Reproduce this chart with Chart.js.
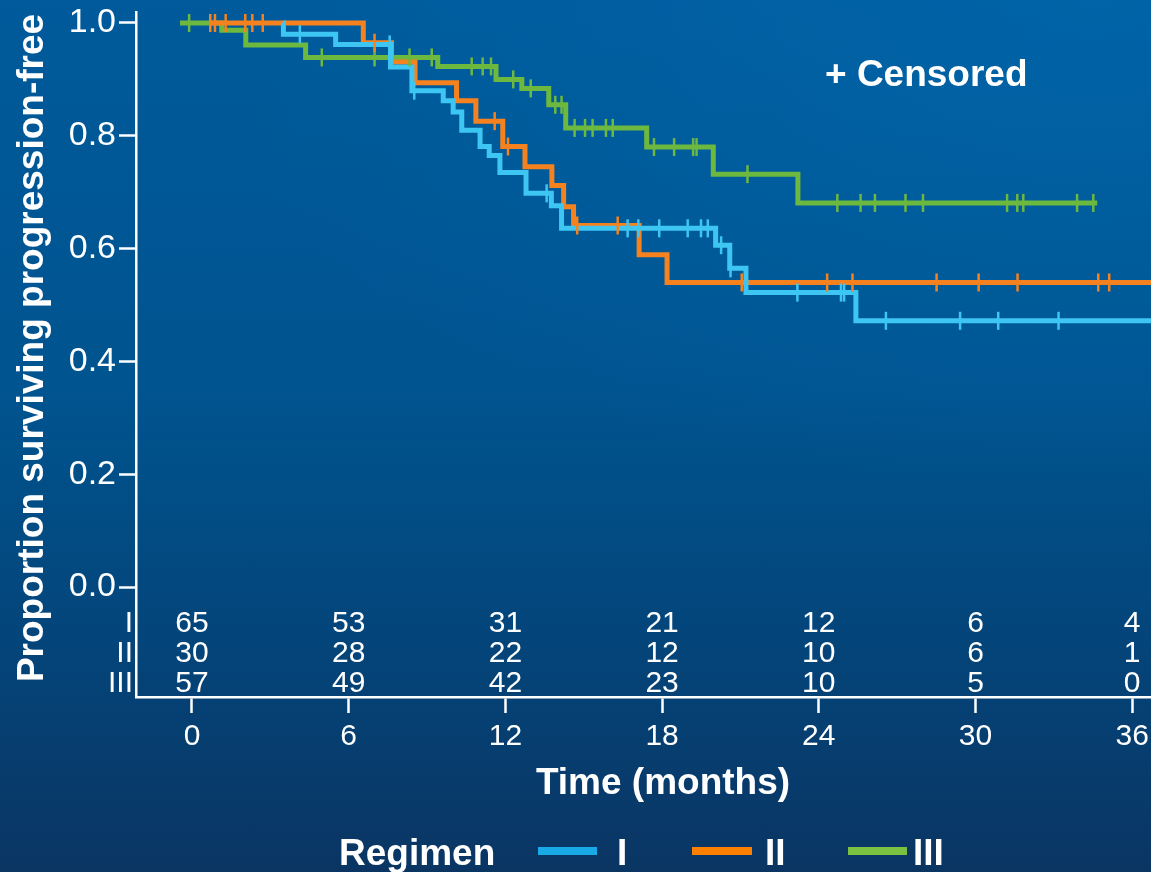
<!DOCTYPE html>
<html>
<head>
<meta charset="utf-8">
<script src="https://cdn.jsdelivr.net/npm/chart.js@4/dist/chart.umd.min.js"></script>
<style>
  html, body { margin: 0; padding: 0; width: 1151px; height: 872px; overflow: hidden; }
  body {
    background:
      radial-gradient(ellipse 900px 500px at 95% 0%, rgba(0,108,178,0.55), rgba(0,108,178,0) 100%),
      linear-gradient(to bottom, #005a9b 0%, #00548f 45%, #044479 75%, #0a3563 100%);
  }
  #wrap { position: relative; width: 1151px; height: 872px; }
</style>
</head>
<body>
<div id="wrap"><canvas id="c" width="1151" height="872"></canvas></div>
<script>
// ---------- data ----------
const regimens = ['I', 'II', 'III'];
const timeTicks = [0, 6, 12, 18, 24, 30, 36];
const yTicks = [0, 0.2, 0.4, 0.6, 0.8, 1.0];

const atRiskI   = [65, 53, 31, 21, 12, 6, 4];
const atRiskII  = [30, 28, 22, 12, 10, 6, 1];
const atRiskIII = [57, 49, 42, 23, 10, 5, 0];

// Kaplan-Meier steps (time in months, proportion after the step)
const timeI = [3.48, 3.50, 5.50, 7.60, 8.42, 9.62, 10.00, 10.33, 11.03, 11.38, 11.79, 12.79, 13.76, 14.15, 20.05, 20.59, 21.21, 25.42, 37.5];
const survI = [1.000, 0.980, 0.962, 0.922, 0.880, 0.862, 0.842, 0.810, 0.781, 0.765, 0.735, 0.698, 0.676, 0.636, 0.606, 0.565, 0.522, 0.472, 0.472];
const censorI = [4.13, 7.57, 8.51, 13.58, 16.68, 17.09, 17.89, 18.98, 19.49, 19.75, 20.26, 20.62, 23.18, 24.85, 24.97, 26.57, 29.41, 30.87, 33.18];

const timeII = [0.65, 6.56, 7.64, 8.54, 10.13, 10.87, 11.90, 12.75, 13.78, 14.23, 14.61, 17.12, 18.19, 37.5];
const survII = [1.000, 0.965, 0.931, 0.894, 0.862, 0.826, 0.781, 0.745, 0.712, 0.674, 0.641, 0.589, 0.540, 0.540];
const censorII = [0.70, 0.88, 1.29, 2.04, 2.31, 2.71, 6.99, 11.59, 12.10, 14.75, 16.30, 21.05, 24.32, 25.29, 28.51, 30.12, 31.61, 34.70, 35.12];

const timeIII = [-0.46, 1.14, 2.06, 4.35, 9.41, 11.64, 12.63, 13.66, 14.31, 17.41, 19.96, 23.20, 34.66];
const survIII = [1.000, 0.987, 0.961, 0.939, 0.923, 0.900, 0.884, 0.855, 0.814, 0.780, 0.732, 0.681, 0.681];
const censorIII = [-0.11, 4.97, 6.99, 8.33, 9.18, 10.71, 11.13, 11.45, 12.30, 12.97, 13.91, 14.15, 14.65, 15.05, 15.34, 15.85, 16.11, 17.69, 18.46, 19.19, 19.32, 21.27, 24.71, 25.60, 26.15, 27.32, 27.99, 31.21, 31.60, 31.83, 33.89, 34.51];

// ---------- styles ----------
const COL = { I: '#3ec6f3', II: '#f5821f', III: '#6db83e' };
const LEG = { I: '#19a9e6', II: '#ff8000', III: '#7cc242' };
const FONT = "'Liberation Sans', Arial, Helvetica, sans-serif";

function pts(ts, ss) { return ts.map((t, i) => ({ x: t, y: ss[i] })); }
function stepAt(ts, ss, t) {
  let v = ss[0];
  for (let i = 0; i < ts.length; i++) { if (ts[i] <= t) v = ss[i]; }
  return v;
}
function censorPts(cs, ts, ss) { return cs.map(t => ({ x: t, y: stepAt(ts, ss, t) })); }

function lineDS(label, ts, ss, color, order) {
  return {
    label, data: pts(ts, ss), stepped: true, borderColor: color, borderWidth: 5,
    pointRadius: 0, fill: false, order, borderCapStyle: 'butt', borderJoinStyle: 'miter'
  };
}
function censorDS(label, cs, ts, ss, color) {
  return {
    label: label + ' censored', data: censorPts(cs, ts, ss), showLine: false,
    pointStyle: 'line', pointRotation: 90, pointRadius: 9, pointBorderWidth: 2.5,
    pointBorderColor: color, pointBackgroundColor: color, borderColor: color, order: 0
  };
}

const textPlugin = {
  id: 'texts',
  afterDraw(chart) {
    const ctx = chart.ctx;
    const xs = chart.scales.x;
    const ca = chart.chartArea;
    ctx.save();
    ctx.fillStyle = '#ffffff';

    // number at risk
    ctx.font = '30px ' + FONT;
    ctx.textBaseline = 'alphabetic';
    const rows = [atRiskI, atRiskII, atRiskIII];
    const rowBase = [ca.bottom - 65.5, ca.bottom - 35.5, ca.bottom - 5.5];
    rows.forEach((row, r) => {
      ctx.textAlign = 'center';
      row.forEach((n, i) => ctx.fillText(String(n), xs.getPixelForValue(timeTicks[i]), rowBase[r]));
      ctx.textAlign = 'right';
      ctx.fillText(regimens[r], ca.left - 3, rowBase[r]);
    });

    // y title
    ctx.font = 'bold 37px ' + FONT;
    ctx.save();
    ctx.translate(33, 348);
    ctx.rotate(-Math.PI / 2);
    ctx.textAlign = 'center';
    ctx.textBaseline = 'middle';
    ctx.fillText('Proportion surviving progression-free', 0, 0);
    ctx.restore();

    // x title
    ctx.textAlign = 'center';
    ctx.textBaseline = 'alphabetic';
    ctx.fillText('Time (months)', 663, 794);

    // censored note
    ctx.textAlign = 'left';
    ctx.fillText('+ Censored', 825, 86);

    // legend
    ctx.fillText('Regimen', 339, 865);
    const legs = [[538, 597, 617, 'I'], [692, 752, 765, 'II'], [848, 907, 913, 'III']];
    legs.forEach(([a, b, tx, k]) => {
      ctx.fillStyle = LEG[k];
      ctx.fillRect(a, 847, b - a, 8);
      ctx.fillStyle = '#ffffff';
      ctx.fillText(k, tx, 865);
    });
    ctx.restore();
  }
};

new Chart(document.getElementById('c'), {
  type: 'line',
  data: {
    datasets: [
      censorDS('I', censorI, timeI, survI, COL.I),
      censorDS('II', censorII, timeII, survII, COL.II),
      censorDS('III', censorIII, timeIII, survIII, COL.III),
      lineDS('I', timeI, survI, COL.I, 1),
      lineDS('II', timeII, survII, COL.II, 2),
      lineDS('III', timeIII, survIII, COL.III, 3)
    ]
  },
  options: {
    responsive: false,
    animation: false,
    layout: { autoPadding: false, padding: { top: 12, right: 0, left: 0, bottom: 0 } },
    plugins: { legend: { display: false }, tooltip: { enabled: false }, title: { display: false } },
    scales: {
      x: {
        type: 'linear', min: -2.144, max: 36.72,
        afterBuildTicks(s) { s.ticks = timeTicks.map(v => ({ value: v })); },
        afterFit(s) { s.height = 175; s.paddingLeft = 0; s.paddingRight = 0; },
        ticks: { color: '#ffffff', font: { family: FONT, size: 30 }, padding: 6, maxRotation: 0, autoSkip: false,
                 callback: v => String(v) },
        grid: { drawOnChartArea: false, drawTicks: true, tickLength: 16, tickColor: '#ffffff', tickWidth: 2.5 },
        border: { display: true, color: '#ffffff', width: 2.5 }
      },
      y: {
        type: 'linear', min: -0.195, max: 1.0195,
        afterBuildTicks(s) { s.ticks = yTicks.map(v => ({ value: v })); },
        afterFit(s) { s.width = 136; s.paddingTop = 0; s.paddingBottom = 0; },
        ticks: { color: '#ffffff', font: { family: FONT, size: 34 }, padding: 3, autoSkip: false,
                 callback: v => v.toFixed(1) },
        grid: { drawOnChartArea: false, drawTicks: true, tickLength: 17, tickColor: '#ffffff', tickWidth: 2.5 },
        border: { display: true, color: '#ffffff', width: 2.5 }
      }
    }
  },
  plugins: [textPlugin]
});
</script>
</body>
</html>
